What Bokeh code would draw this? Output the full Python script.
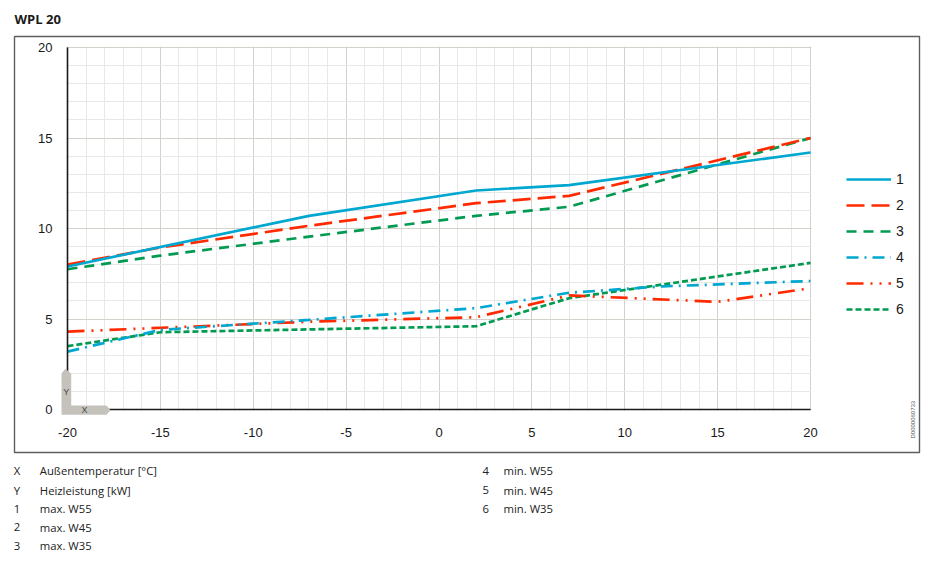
from bokeh.plotting import figure
from bokeh.models import (Range1d, SingleIntervalTicker, Label, Legend, LegendItem,
                          BoxAnnotation, PolyAnnotation)
from bokeh.embed import file_html
from bokeh.resources import INLINE

# ---------------- data ----------------
chart_title = "WPL 20"
x_ticks = [-20, -15, -10, -5, 0, 5, 10, 15, 20]
y_ticks = [0, 5, 10, 15, 20]

temps_max_w55 = [-20, -7, 2, 7, 20]
max_w55 = [7.9, 10.7, 12.1, 12.4, 14.2]
temps_max_w45 = [-20, -15, -7, 2, 7, 20]
max_w45 = [8.0, 8.95, 10.15, 11.4, 11.8, 15.0]
temps_max_w35 = [-20, -15, -7, 2, 7, 20]
max_w35 = [7.75, 8.5, 9.55, 10.7, 11.2, 15.0]
temps_min_w55 = [-20, -15, -7, 2, 7, 12, 20]
min_w55 = [3.2, 4.4, 4.95, 5.6, 6.45, 6.8, 7.1]
temps_min_w45 = [-20, -7, 2, 7, 15, 20]
min_w45 = [4.3, 4.85, 5.1, 6.3, 5.95, 6.7]
temps_min_w35 = [-20, -15, 2, 7, 20]
min_w35 = [3.5, 4.27, 4.6, 6.15, 8.1]

series_keys = ["1", "2", "3", "4", "5", "6"]
key_rows_left = [("X", "Außentemperatur [°C]"), ("Y", "Heizleistung [kW]"),
                 ("1", "max. W55"), ("2", "max. W45"), ("3", "max. W35")]
key_rows_right = [("4", "min. W55"), ("5", "min. W45"), ("6", "min. W35")]
doc_code = "D0000060733"

CYAN = "#00a7d0"
RED = "#ff2a00"
GREEN = "#009a50"

# ---------------- layout helpers (page pixels -> data units) ----------------
W, H = 934, 569
def fx(px):
    return x_ticks[0] + (px - 67) / 18.575

def fy(py):
    return y_ticks[0] + (409 - py) / 18.1

# grey "L" badge at the axis origin (page pixels)
badge_px = [61, 61, 65, 70.7, 70.7, 106, 110, 106]
badge_py = [414.3, 372.7, 368.3, 373.3, 405, 405, 409.7, 414.3]

p = figure(width=W, height=H,
           x_range=Range1d(fx(0), fx(W)), y_range=Range1d(fy(H), fy(0)),
           output_backend="svg", toolbar_location=None, min_border=0)
p.outline_line_color = None
p.background_fill_color = "white"
p.border_fill_color = "white"

p.xaxis.fixed_location = y_ticks[0]
p.yaxis.fixed_location = x_ticks[0]
p.xaxis.bounds = (x_ticks[0], x_ticks[-1])
p.yaxis.bounds = (y_ticks[0], y_ticks[-1])
for ax, tk in ((p.xaxis, x_ticks), (p.yaxis, y_ticks)):
    ax.ticker = SingleIntervalTicker(interval=5, num_minor_ticks=5)
    ax.major_label_overrides = {t: str(t) for t in tk}
    ax.axis_line_color = "#1a1a1a"
    ax.axis_line_width = 1.6
    ax.major_tick_line_color = None
    ax.minor_tick_line_color = None
    ax.major_tick_out = 0
    ax.major_tick_in = 0
    ax.major_label_text_font = "Liberation Sans"
    ax.major_label_text_font_size = "13px"
    ax.major_label_text_color = "#1a1a1a"
p.xaxis.major_label_standoff = 14
p.yaxis.major_label_standoff = 11

for g in (p.xgrid, p.ygrid):
    g.grid_line_color = "#d4d1cb"
    g.grid_line_width = 1
    g.minor_grid_line_color = "#e8e8e8"
    g.minor_grid_line_width = 1

# white masks so the grid stays inside the plotting area
eps = 0.05
xl, xr, yb, yt = fx(0), fx(W), fy(H), fy(0)
p.quad(left=[xl, x_ticks[-1] + eps, xl, xl],
       right=[x_ticks[0] - eps, xr, xr, xr],
       bottom=[yb, yb, y_ticks[-1] + eps, yb],
       top=[yt, yt, yt, y_ticks[0] - eps],
       fill_color="white", line_color=None)

lw = 2.7
r3 = p.line(temps_max_w35, max_w35, line_color=GREEN, line_width=lw, line_dash="10 7")
r2 = p.line(temps_max_w45, max_w45, line_color=RED, line_width=lw, line_dash="18 7")
r1 = p.line(temps_max_w55, max_w55, line_color=CYAN, line_width=lw)
r6 = p.line(temps_min_w35, min_w35, line_color=GREEN, line_width=lw, line_dash="6 3")
r5 = p.line(temps_min_w45, min_w45, line_color=RED, line_width=lw, line_dash="17 7 2 7 2 7")
r4 = p.line(temps_min_w55, min_w55, line_color=CYAN, line_width=lw, line_dash="12 6 2 6")

# axis badge (drawn above the axis lines)
p.add_layout(PolyAnnotation(xs=[fx(v) for v in badge_px], ys=[fy(v) for v in badge_py],
                            fill_color="#c5c2bb", fill_alpha=1.0, line_color=None))
for t, bx, by in (("Y", 65.7, 391.5), ("X", 84, 409.5)):
    p.add_layout(Label(x=fx(bx), y=fy(by), text=t, text_font="Liberation Sans",
                       text_font_size="9px", text_align="center",
                       text_baseline="alphabetic", text_color="#4a4a4a"))

legend = Legend(items=[LegendItem(label=k, renderers=[r])
                       for k, r in zip(series_keys, [r1, r2, r3, r4, r5, r6])],
                location=(846, H - 318.7), glyph_width=45, glyph_height=20,
                label_height=20, spacing=6, padding=0, margin=0,
                label_standoff=5, border_line_color=None,
                background_fill_alpha=0, label_text_font="Liberation Sans",
                label_text_font_size="14px", label_text_color="#1a1a1a")
p.add_layout(legend)

# outer frame box
p.add_layout(BoxAnnotation(left=fx(14), right=fx(919), top=fy(36), bottom=fy(452),
                           fill_color=None, line_color="#5e5e5e", line_alpha=1.0,
                           line_width=1.4))

p.add_layout(Label(x=fx(14), y=fy(18), text=chart_title, text_font="Open Sans",
                   text_font_style="bold", text_font_size="13px",
                   text_baseline="alphabetic", text_color="#1a1a1a"))

p.add_layout(Label(x=fx(912.5), y=fy(438), text=doc_code, angle=90, angle_units="deg",
                   text_font="Liberation Sans", text_font_size="6px",
                   text_align="left", text_baseline="middle", text_color="#555555"))

row_py = [470, 489.5, 508, 526.7, 545.3]
key_font = dict(text_font="Open Sans", text_font_size="11.3px", text_color="#222222",
                text_baseline="alphabetic")
for (sym, txt), yy in zip(key_rows_left, row_py):
    p.add_layout(Label(x=fx(13.3), y=fy(yy), text=sym, **key_font))
    p.add_layout(Label(x=fx(39.3), y=fy(yy), text=txt, **key_font))
for (sym, txt), yy in zip(key_rows_right, row_py):
    p.add_layout(Label(x=fx(482), y=fy(yy), text=sym, **key_font))
    p.add_layout(Label(x=fx(503), y=fy(yy), text=txt, **key_font))

open("out.html", "w").write(file_html(p, INLINE))
